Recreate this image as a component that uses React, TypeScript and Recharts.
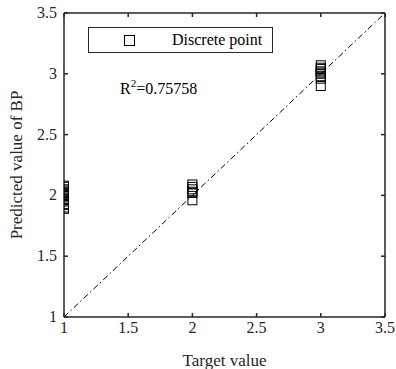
import { ScatterChart, Scatter, XAxis, YAxis, ReferenceLine } from 'recharts';

// predicted values grouped by target class
const target1 = [2.08, 2.07, 2.05, 2.04, 2.03, 2.02, 2.01, 2.0, 1.99, 1.97, 1.96, 1.95, 1.93, 1.92, 1.9, 1.89];
const target2 = [2.09, 2.07, 2.05, 2.03, 2.02, 1.96];
const target3 = [3.07, 3.05, 3.04, 3.02, 3.01, 3.0, 2.98, 2.96, 2.9];

const ticks = [1, 1.5, 2, 2.5, 3, 3.5];
const domain: [number, number] = [1, 3.5];

const points = [
  ...target1.map((y) => ({ x: 1, y })),
  ...target2.map((y) => ({ x: 2, y })),
  ...target3.map((y) => ({ x: 3, y })),
];

const font = '"Liberation Serif", "Times New Roman", serif';
const ink = '#262626';

const SquareMarker = (props: any) => {
  const { cx, cy } = props;
  return <rect x={cx - 4.5} y={cy - 4.5} width={9} height={9} fill="none" stroke="#000" strokeWidth={1} />;
};

const BottomTick = ({ x, y, payload }: any) => (
  <g>
    <line x1={x} x2={x} y1={y} y2={y - 4} stroke={ink} strokeWidth={1.5} />
    <text x={x} y={y + 16} textAnchor="middle" fontFamily="Liberation Serif" fontSize={16} fill={ink}>
      {payload.value}
    </text>
  </g>
);

const LeftTick = ({ x, y, payload }: any) => (
  <g>
    <line x1={x} x2={x + 4} y1={y} y2={y} stroke={ink} strokeWidth={1.5} />
    <text x={x - 7} y={y + 5} textAnchor="end" fontFamily="Liberation Serif" fontSize={16} fill={ink}>
      {payload.value}
    </text>
  </g>
);

const TopTick = ({ x, y }: any) => <line x1={x} x2={x} y1={y} y2={y + 4} stroke={ink} strokeWidth={1.5} />;
const RightTick = ({ x, y }: any) => <line x1={x} x2={x - 4} y1={y} y2={y} stroke={ink} strokeWidth={1.5} />;

export default function App() {
  return (
    <div style={{ position: 'fixed', left: 0, top: 0, width: 396, height: 369, background: '#fff' }}>
      <ScatterChart width={396} height={369} margin={{ top: 8, right: 6, bottom: 8, left: 0 }}>
        <XAxis
          xAxisId="b"
          type="number"
          dataKey="x"
          domain={domain}
          ticks={ticks}
          height={44}
          allowDataOverflow
          stroke={ink}
          strokeWidth={1.5}
          tickLine={false}
          tickSize={0}
          tickMargin={0}
          tick={<BottomTick />}
          interval={0}
          label={{
            value: 'Target value',
            position: 'insideBottom',
            offset: -5,
            style: { fontFamily: font, fontSize: 17, fill: ink },
          }}
        />
        <XAxis
          xAxisId="t"
          orientation="top"
          type="number"
          dataKey="x"
          domain={domain}
          ticks={ticks}
          height={5}
          allowDataOverflow
          stroke={ink}
          strokeWidth={1.5}
          tickLine={false}
          tickSize={0}
          tickMargin={0}
          tick={<TopTick />}
          interval={0}
        />
        <YAxis
          yAxisId="l"
          type="number"
          dataKey="y"
          domain={domain}
          ticks={ticks}
          width={64}
          allowDataOverflow
          stroke={ink}
          strokeWidth={1.5}
          tickLine={false}
          tickSize={0}
          tickMargin={0}
          tick={<LeftTick />}
          interval={0}
          label={{
            value: 'Predicted value of BP',
            angle: -90,
            position: 'insideLeft',
            offset: 0,
            dx: 16,
            style: { textAnchor: 'middle', fontFamily: font, fontSize: 17, fill: ink },
          }}
        />
        <YAxis
          yAxisId="r"
          orientation="right"
          type="number"
          dataKey="y"
          domain={domain}
          ticks={ticks}
          width={5}
          allowDataOverflow
          stroke={ink}
          strokeWidth={1.5}
          tickLine={false}
          tickSize={0}
          tickMargin={0}
          tick={<RightTick />}
          interval={0}
        />
        <ReferenceLine
          xAxisId="b"
          yAxisId="l"
          segment={[{ x: 1, y: 1 }, { x: 3.5, y: 3.5 }]}
          stroke="#000"
          strokeWidth={1}
          strokeDasharray="6 3 1.5 3"
          ifOverflow="visible"
        />
        <Scatter
          xAxisId="b"
          yAxisId="l"
          name="Discrete point"
          data={points}
          shape={<SquareMarker />}
          isAnimationActive={false}
        />
      </ScatterChart>
      {/* legend */}
      <div
        style={{
          position: 'absolute',
          left: 88,
          top: 27,
          width: 185,
          height: 26,
          border: `1px solid ${ink}`,
          background: '#fff',
          boxSizing: 'border-box',
          display: 'flex',
          alignItems: 'center',
          fontFamily: font,
          fontSize: 16,
          color: '#000',
        }}
      >
        <span
          style={{
            display: 'inline-block',
            width: 9,
            height: 9,
            border: '1px solid #000',
            marginLeft: 35,
            marginRight: 37,
          }}
        />
        <span>Discrete point</span>
      </div>
      <div
        style={{
          position: 'absolute',
          left: 120,
          top: 80,
          fontFamily: font,
          fontSize: 16,
          color: '#000',
          whiteSpace: 'nowrap',
        }}
      >
        R<sup style={{ fontSize: 11, verticalAlign: 'top', position: 'relative', top: -3 }}>2</sup>=0.75758
      </div>
    </div>
  );
}
